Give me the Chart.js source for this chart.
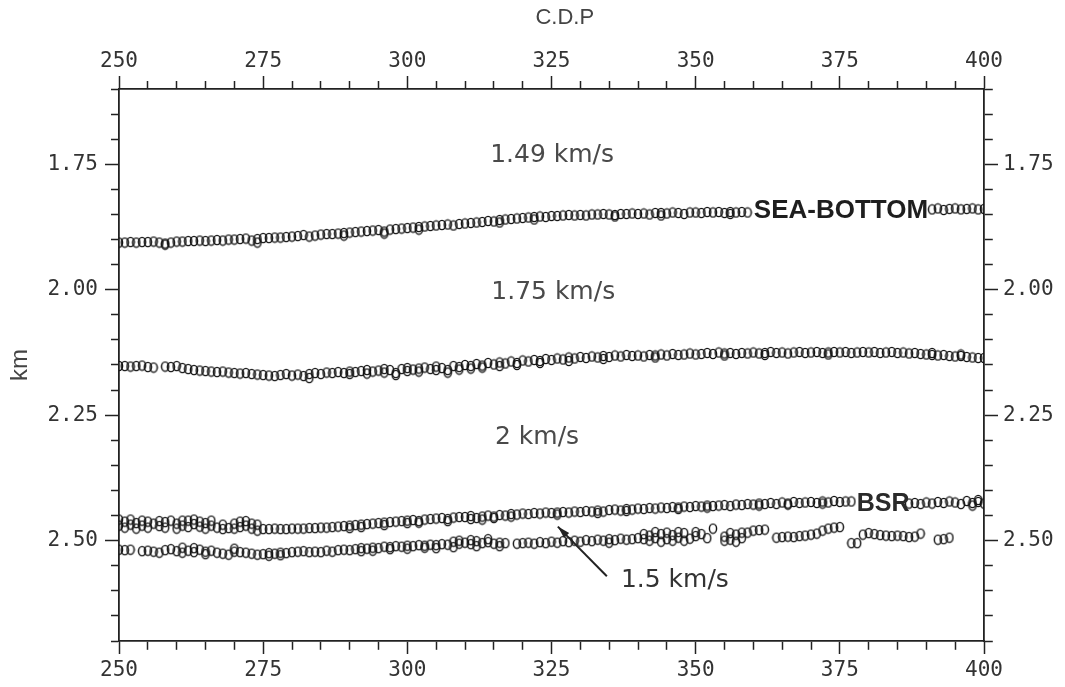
<!DOCTYPE html>
<html>
<head>
<meta charset="utf-8">
<script src="https://cdn.jsdelivr.net/npm/chart.js@4/dist/chart.umd.min.js"></script>
<style>
  html, body { margin: 0; padding: 0; background: #ffffff; }
  canvas { display: block; }
</style>
</head>
<body>
<canvas id="chart" width="1065" height="687"></canvas>
<script>
// ---------------- DATA ----------------
// CDP numbers 250 ... 400 (one pick per CDP)
const cdpFirst = 250, cdpLast = 400;
const cdp = Array.from({ length: cdpLast - cdpFirst + 1 }, (_, i) => cdpFirst + i);

const xTickLabels = [250, 275, 300, 325, 350, 375, 400];
const yTickLabels = [1.75, 2.00, 2.25, 2.50];

// Sea-bottom reflector (km)
const seaBottom = [
  1.906, 1.906, 1.905, 1.906, 1.905, 1.905, 1.904, 1.906, 1.908, 1.906,
  1.904, 1.904, 1.903, 1.903, 1.902, 1.903, 1.902, 1.901, 1.902, 1.900,
  1.900, 1.899, 1.898, 1.902, 1.899, 1.897, 1.897, 1.896, 1.896, 1.895,
  1.894, 1.893, 1.891, 1.894, 1.892, 1.890, 1.889, 1.889, 1.888, 1.887,
  1.886, 1.885, 1.884, 1.883, 1.882, 1.881, 1.884, 1.880, 1.879, 1.878,
  1.877, 1.876, 1.875, 1.874, 1.873, 1.872, 1.871, 1.870, 1.872, 1.869,
  1.868, 1.867, 1.866, 1.865, 1.863, 1.864, 1.861, 1.860, 1.859, 1.858,
  1.857, 1.856, 1.855, 1.854, 1.855, 1.853, 1.853, 1.852, 1.851, 1.852,
  1.851, 1.852, 1.850, 1.850, 1.849, 1.850, 1.851, 1.849, 1.849, 1.848,
  1.849, 1.848, 1.850, 1.847, 1.847, 1.848, 1.846, 1.847, 1.849, 1.846,
  1.846, 1.847, 1.845, 1.846, 1.845, 1.847, 1.845, 1.846, 1.845, 1.846,
  null, null, null, null, null, null, null, null, null, null,
  null, null, null, null, null, null, null, null, null, null,
  null, null, null, null, null, null, null, null, null, null,
  null, 1.840, 1.838, 1.841, 1.839, 1.838, 1.840, 1.839, 1.838, 1.840,
  1.839
];

// Horizon between 1.75 km/s and 2 km/s layers (km)
const horizon2 = [
  2.152, 2.152, 2.153, 2.152, 2.151, 2.154, 2.155, null, 2.153, 2.154,
  2.152, 2.156, 2.158, 2.160, 2.161, 2.162, 2.163, 2.164, 2.163, 2.165,
  2.166, 2.167, 2.166, 2.168, 2.169, 2.170, 2.171, 2.172, 2.170, 2.168,
  2.171, 2.169, 2.172, 2.168, 2.166, 2.168, 2.165, 2.166, 2.164, 2.166,
  2.163, 2.164, 2.162, 2.160, 2.163, 2.161, 2.158, 2.160, 2.166, 2.158,
  2.156, 2.159, 2.157, 2.155, 2.158, 2.153, 2.156, 2.160, 2.152, 2.154,
  2.150, 2.152, 2.148, 2.151, 2.146, 2.149, 2.145, 2.147, 2.143, 2.146,
  2.141, 2.143, 2.140, 2.142, 2.138, 2.140, 2.137, 2.139, 2.135, 2.137,
  2.134, 2.136, 2.133, 2.135, 2.132, 2.134, 2.131, 2.133, 2.130, 2.132,
  2.131, 2.133, 2.130, 2.131, 2.129, 2.131, 2.128, 2.130, 2.129, 2.127,
  2.129, 2.128, 2.126, 2.128, 2.125, 2.127, 2.126, 2.128, 2.126, 2.127,
  2.125, 2.127, 2.126, 2.124, 2.126, 2.125, 2.127, 2.125, 2.124, 2.126,
  2.125, 2.124, 2.126, 2.125, 2.124, 2.125, 2.124, 2.126, 2.125, 2.124,
  2.125, 2.124, 2.126, 2.125, 2.124, 2.126, 2.125, 2.127, 2.126, 2.128,
  2.129, 2.130, 2.131, 2.130, 2.132, 2.133, 2.132, 2.134, 2.135, 2.136,
  2.136
];

// BSR (km)
const bsr = [
  2.470, 2.462, 2.468, 2.465, 2.470, 2.462, 2.466, 2.471, 2.463, 2.460,
  2.466, 2.470, 2.460, 2.467, 2.472, 2.465, 2.470, 2.474, 2.468, 2.475,
  2.466, 2.462, 2.470, 2.476, 2.468, 2.477, 2.477, 2.476, 2.477, 2.477,
  2.476, 2.476, 2.476, 2.475, 2.475, 2.474, 2.474, 2.473, 2.472, 2.471,
  2.470, 2.469, 2.468, 2.467, 2.466, 2.465, 2.464, 2.463, 2.462, 2.461,
  2.460, 2.459, 2.461, 2.458, 2.457, 2.456, 2.455, 2.457, 2.454, 2.453,
  2.453, 2.451, 2.455, 2.452, 2.450, 2.452, 2.449, 2.450, 2.447, 2.448,
  2.446, 2.447, 2.445, 2.446, 2.444, 2.445, 2.444, 2.443, 2.444, 2.442,
  2.443, 2.441, 2.442, 2.440, 2.442, 2.439, 2.438, 2.440, 2.437, 2.438,
  2.436, 2.437, 2.435, 2.436, 2.434, 2.435, 2.433, 2.434, 2.432, 2.433,
  2.431, 2.432, 2.430, 2.431, 2.430, 2.429, 2.431, 2.428, 2.429, 2.427,
  2.428, 2.426, 2.427, 2.425, 2.427, 2.424, 2.426, 2.423, 2.425, 2.424,
  2.423, 2.425, 2.422, 2.424, 2.421, 2.423, 2.422, 2.422, null, null,
  null, null, null, null, null, null, null, 2.426, 2.425, 2.427,
  2.424, 2.426, 2.423, 2.425, 2.422, 2.424, 2.427, 2.421, 2.425, 2.423,
  2.426
];

// Base of the 1.5 km/s layer below the BSR (km)
const baseLayer = [
  2.518, 2.519, 2.518, null, 2.521, 2.520, 2.522, 2.524, 2.519, 2.517,
  2.521, 2.514, 2.520, 2.523, 2.518, 2.522, 2.520, 2.524, 2.526, 2.528,
  2.522, 2.523, 2.524, 2.526, 2.528, 2.527, 2.525, 2.526, 2.524, 2.525,
  2.523, 2.522, 2.521, 2.523, 2.522, 2.523, 2.520, 2.522, 2.519, 2.518,
  2.519, 2.517, 2.515, 2.516, 2.514, 2.515, 2.512, 2.513, 2.511, 2.512,
  2.510, 2.511, 2.509, 2.510, 2.508, 2.509, 2.507, 2.508, 2.502, 2.506,
  2.504, 2.507, 2.501, 2.505, 2.503, 2.506, 2.504, 2.505, null, 2.506,
  2.505, 2.504, 2.506, 2.503, 2.505, 2.502, 2.504, 2.501, 2.503, 2.500,
  2.502, 2.499, 2.501, 2.498, 2.500, 2.497, 2.499, 2.496, 2.498, 2.497,
  2.495, 2.497, 2.490, 2.495, 2.487, 2.497, 2.489, 2.494, 2.485, 2.496,
  2.491, 2.487, 2.495, 2.476, null, 2.492, 2.498, 2.488, 2.495, 2.484,
  2.480, 2.479, 2.478, null, 2.494, 2.493, 2.492, 2.493, 2.491, 2.490,
  2.488, 2.486, 2.480, 2.476, 2.474, 2.473, null, 2.505, 2.505, 2.488,
  2.485, 2.487, 2.489, 2.490, 2.491, 2.490, 2.491, 2.493, 2.492, 2.486,
  null, null, 2.498, 2.497, 2.494, null, null, null, null, null,
  null
];

// Additional (multiple) picks at some CDPs
const seaBottomExtraCdp = [258, 274, 289, 296, 302, 316, 322, 336, 344, 356];
const seaBottomExtraKm  = [1.910, 1.906, 1.892, 1.888, 1.880, 1.866, 1.860, 1.854, 1.852, 1.849];

const horizon2ExtraCdp = [283, 290, 293, 296, 298, 300, 302, 305, 307, 309, 311, 313, 316, 319, 323, 328, 334, 343, 355, 362, 373, 391, 396];
const horizon2ExtraKm  = [2.176, 2.168, 2.167, 2.165, 2.170, 2.162, 2.163, 2.160, 2.165, 2.159, 2.157, 2.155, 2.152, 2.150, 2.146, 2.142, 2.138, 2.135, 2.131, 2.130, 2.129, 2.126, 2.129];

const bsrExtraCdp = [250, 251, 252, 253, 254, 255, 257, 258, 260, 261, 262, 263, 264, 265, 266, 268, 270, 271, 272, 273, 274, 290, 292, 296, 300, 302, 307, 311, 313, 315, 318, 326, 333, 338, 347, 352, 361, 366, 372, 398, 399];
const bsrExtraKm  = [2.458, 2.474, 2.458, 2.476, 2.460, 2.474, 2.461, 2.474, 2.476, 2.460, 2.473, 2.458, 2.462, 2.476, 2.460, 2.477, 2.476, 2.473, 2.461, 2.466, 2.480, 2.475, 2.473, 2.469, 2.465, 2.464, 2.461, 2.457, 2.458, 2.455, 2.452, 2.448, 2.445, 2.441, 2.437, 2.434, 2.430, 2.428, 2.426, 2.430, 2.419];

const baseExtraCdp = [261, 263, 265, 270, 276, 278, 292, 294, 297, 300, 303, 305, 308, 309, 311, 312, 314, 316, 335, 341, 342, 343, 344, 345, 346, 347, 348, 350, 355, 356, 357, 358];
const baseExtraKm  = [2.524, 2.515, 2.527, 2.516, 2.530, 2.529, 2.521, 2.520, 2.517, 2.516, 2.514, 2.515, 2.513, 2.500, 2.499, 2.511, 2.497, 2.511, 2.504, 2.487, 2.500, 2.483, 2.502, 2.484, 2.500, 2.483, 2.500, 2.483, 2.500, 2.485, 2.502, 2.484];

// ---------------- RENDERING ----------------
function makeMarker() {
  const c = document.createElement('canvas');
  c.width = 10; c.height = 12;
  const g = c.getContext('2d');
  g.strokeStyle = '#141414';
  g.lineWidth = 1.45;
  g.beginPath();
  g.ellipse(5, 6, 3.6, 4.6, 0, 0, Math.PI * 2);
  g.stroke();
  return c;
}
const marker = makeMarker();

function pairs(xs, ys) {
  const out = [];
  for (let i = 0; i < xs.length; i++) {
    if (ys[i] !== null && ys[i] !== undefined) out.push({ x: xs[i], y: ys[i] });
  }
  return out;
}

function ds(label, data) {
  return {
    label, data,
    showLine: false,
    pointStyle: marker,
    pointRadius: 4,
    pointHoverRadius: 4,
    borderColor: '#141414',
    backgroundColor: 'rgba(0,0,0,0)',
    xAxisID: 'x', yAxisID: 'y'
  };
}

const isMajorX = v => xTickLabels.includes(Math.round(v));
const isMajorY = v => yTickLabels.some(t => Math.abs(t - v) < 1e-6);

function axis(kind, position) {
  const isX = kind === 'x';
  const tl = isX ? 13 : 14;
  const outerStart = (position === 'top' || position === 'left');
  const pad = { top: 2, bottom: 4, left: 7, right: 5 }[position];
  return {
    type: 'linear',
    position,
    min: isX ? 250 : 1.6,
    max: isX ? 400 : 2.7,
    reverse: !isX,
    afterFit(s) {
      if (isX) s.height = position === 'top' ? 89 : 46;
      else s.width = position === 'left' ? 119 : 81;
    },
    grid: {
      drawOnChartArea: false,
      drawTicks: true,
      tickLength: tl,
      tickColor: '#222',
      tickWidth: 1.5,
      tickBorderDash: ctx => {
        const v = ctx.tick ? ctx.tick.value : 0;
        const major = isX ? isMajorX(v) : isMajorY(v);
        if (major) return [];
        return outerStart ? [0, tl - 8, 8, 300] : [8, 300];
      }
    },
    border: { display: true, color: '#222', width: 1.8 },
    ticks: {
      autoSkip: false,
      maxRotation: 0,
      minRotation: 0,
      stepSize: isX ? 5 : 0.05,
      padding: pad,
      color: '#333',
      font: { family: 'DejaVu Sans Mono', size: 21 },
      callback: v => isX ? (isMajorX(v) ? String(Math.round(v)) : '')
                         : (isMajorY(v) ? Number(v).toFixed(2) : '')
    },
    title: (kind === 'y' && position === 'left') ? {
      display: true, text: 'km', color: '#444',
      font: { family: 'Liberation Sans', size: 24 },
      padding: { top: 6, bottom: 0 }
    } : { display: false }
  };
}

const annotations = [
  { text: '1.49 km/s', cdp: 325.1, km: 1.732, font: '25px "DejaVu Sans"', color: '#4a4a4a' },
  { text: '1.75 km/s', cdp: 325.3, km: 2.006, font: '25px "DejaVu Sans"', color: '#4a4a4a' },
  { text: '2 km/s',    cdp: 322.5, km: 2.294, font: '25px "DejaVu Sans"', color: '#4a4a4a' },
  { text: '1.5 km/s',  cdp: 346.4, km: 2.579, font: '25px "DejaVu Sans"', color: '#333' },
  { text: 'SEA-BOTTOM', cdp: 375.2, km: 1.843, font: 'bold 26px "Liberation Sans"', color: '#1e1e1e' },
  { text: 'BSR', cdp: 382.5, km: 2.427, font: 'bold 25px "Liberation Sans"', color: '#2a2a2a' }
];
const arrowFrom = { cdp: 334.6, km: 2.571 };
const arrowTo   = { cdp: 326.1, km: 2.472 };

const annoPlugin = {
  id: 'annoPlugin',
  afterDatasetsDraw(chart) {
    const { ctx } = chart;
    const xs = chart.scales.x, ys = chart.scales.y;
    ctx.save();
    ctx.textAlign = 'center';
    ctx.textBaseline = 'middle';
    for (const a of annotations) {
      ctx.font = a.font;
      ctx.fillStyle = a.color;
      ctx.fillText(a.text, xs.getPixelForValue(a.cdp), ys.getPixelForValue(a.km));
    }
    // arrow
    const x1 = xs.getPixelForValue(arrowFrom.cdp), y1 = ys.getPixelForValue(arrowFrom.km);
    const x2 = xs.getPixelForValue(arrowTo.cdp), y2 = ys.getPixelForValue(arrowTo.km);
    ctx.strokeStyle = '#222';
    ctx.lineWidth = 2;
    ctx.beginPath(); ctx.moveTo(x1, y1); ctx.lineTo(x2, y2); ctx.stroke();
    const ang = Math.atan2(y2 - y1, x2 - x1);
    const L = 13, W = 0.28;
    ctx.fillStyle = '#222';
    ctx.beginPath();
    ctx.moveTo(x2, y2);
    ctx.lineTo(x2 - L * Math.cos(ang - W), y2 - L * Math.sin(ang - W));
    ctx.lineTo(x2 - L * Math.cos(ang + W), y2 - L * Math.sin(ang + W));
    ctx.closePath(); ctx.fill();
    // top axis title
    ctx.font = '22px "Liberation Sans"';
    ctx.fillStyle = '#444';
    ctx.fillText('C.D.P', xs.getPixelForValue(327.3), 18);
    ctx.restore();
  }
};

new Chart(document.getElementById('chart'), {
  type: 'scatter',
  data: {
    datasets: [
      ds('Sea-bottom', pairs(cdp, seaBottom)),
      ds('Sea-bottom (extra picks)', pairs(seaBottomExtraCdp, seaBottomExtraKm)),
      ds('1.75/2 km/s boundary', pairs(cdp, horizon2)),
      ds('1.75/2 km/s boundary (extra picks)', pairs(horizon2ExtraCdp, horizon2ExtraKm)),
      ds('BSR', pairs(cdp, bsr)),
      ds('BSR (extra picks)', pairs(bsrExtraCdp, bsrExtraKm)),
      ds('Base of 1.5 km/s layer', pairs(cdp, baseLayer)),
      ds('Base of 1.5 km/s layer (extra picks)', pairs(baseExtraCdp, baseExtraKm))
    ]
  },
  options: {
    responsive: false,
    animation: false,
    events: [],
    layout: { padding: 0 },
    plugins: { legend: { display: false }, tooltip: { enabled: false }, title: { display: false } },
    scales: {
      x: axis('x', 'bottom'),
      x2: axis('x', 'top'),
      y: axis('y', 'left'),
      y2: axis('y', 'right')
    }
  },
  plugins: [annoPlugin]
});
</script>
</body>
</html>
